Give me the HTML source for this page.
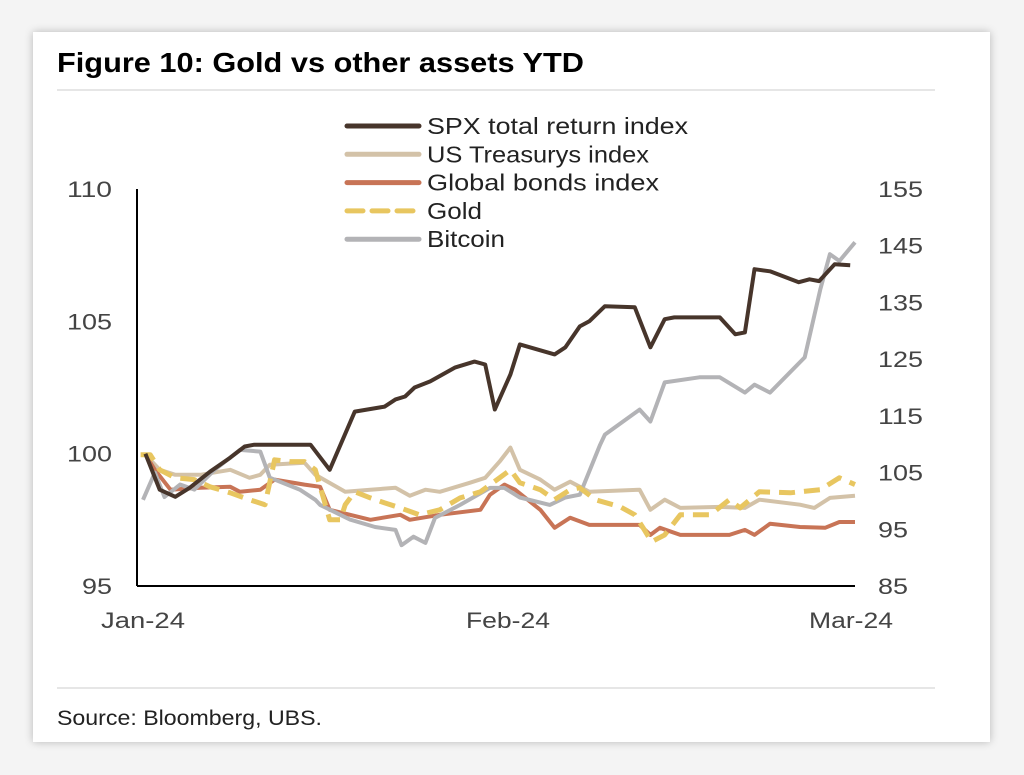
<!DOCTYPE html>
<html><head><meta charset="utf-8"><style>
body{margin:0;width:1024px;height:775px;background:#f4f4f4;overflow:hidden;font-family:"Liberation Sans",sans-serif}
#card{position:absolute;left:33px;top:32px;width:957px;height:710px;background:#fff;box-shadow:0 0 8px rgba(0,0,0,0.25)}
</style></head><body>
<div id="card"></div>
<svg id="chart" width="1024" height="775" style="position:absolute;left:0;top:0">
<text x="57" y="72" font-size="28" font-weight="bold" fill="#000" textLength="527" lengthAdjust="spacingAndGlyphs">Figure 10: Gold vs other assets YTD</text>
<line x1="57" y1="90" x2="935" y2="90" stroke="#ccc" stroke-width="1"/>
<line x1="57" y1="688" x2="935" y2="688" stroke="#ccc" stroke-width="1"/>
<text x="57" y="725" font-size="21" fill="#222" textLength="265" lengthAdjust="spacingAndGlyphs">Source: Bloomberg, UBS.</text>
<g id="axes"></g><g id="series"></g><g id="legend"></g>
</svg>
<script>
const xTickLabels=["Jan-24","Feb-24","Mar-24"];
const xTickDays=[0,31,60];
const leftTicks=[95,100,105,110];
const rightTicks=[85,95,105,115,125,135,145,155];
const spxDays=[0.7,1.9,3.2,4.4,6.1,7.8,9.0,9.8,11.1,14.5,16.1,18.2,20.7,21.6,22.4,23.2,24.5,26.6,28.2,29.1,29.9,31.2,32.0,34.9,35.8,37.0,37.8,39.1,41.6,42.9,44.1,44.9,46.2,48.7,50.0,50.8,51.6,52.9,55.3,56.2,57.0,58.3,59.6];
const spxVals=[100.0,98.64,98.37,98.71,99.32,99.85,100.27,100.34,100.34,100.34,99.39,101.59,101.78,102.05,102.16,102.5,102.73,103.26,103.48,103.37,101.67,102.99,104.13,103.75,104.02,104.81,105.0,105.57,105.53,104.02,105.08,105.15,105.15,105.15,104.51,104.58,106.97,106.89,106.48,106.59,106.52,107.16,107.12];
const ustDays=[0.7,1.9,3.2,5.3,7.8,9.4,10.3,11.1,14.0,14.9,17.4,19.5,21.6,22.8,24.1,25.3,27.8,29.1,30.3,31.2,32.0,33.7,34.9,36.2,37.8,42.0,42.9,44.1,45.4,48.7,50.8,52.0,55.4,56.6,57.9,60.0];
const ustVals=[99.96,99.39,99.2,99.2,99.39,99.09,99.2,99.58,99.66,99.2,98.56,98.64,98.71,98.41,98.64,98.56,98.9,99.09,99.7,100.23,99.39,99.02,98.64,98.94,98.56,98.64,97.88,98.26,97.95,97.99,97.95,98.26,98.07,97.95,98.33,98.41];
const gbDays=[0.7,1.5,2.8,5.3,7.8,8.6,10.3,11.5,14.0,15.3,16.1,19.5,22.0,22.8,25.3,28.7,29.5,30.7,31.6,33.7,34.9,36.2,37.8,42.0,42.9,43.7,45.4,49.5,50.8,51.6,52.9,55.4,57.5,58.7,60.0];
const gbVals=[99.96,99.39,98.64,98.71,98.75,98.56,98.64,99.02,98.83,98.75,97.88,97.5,97.69,97.5,97.69,97.88,98.45,98.83,98.64,97.88,97.2,97.58,97.31,97.31,96.93,97.2,96.93,96.93,97.12,96.93,97.35,97.23,97.2,97.42,97.42];
const goldDays=[0.3,1.1,1.9,3.2,4.8,6.1,7.8,9.4,10.7,11.5,12.8,14.0,14.9,16.1,17.0,17.4,18.2,19.5,20.7,22.0,23.6,25.3,27.0,28.7,30.3,31.2,32.0,33.7,34.9,36.2,37.0,38.3,40.4,41.6,42.4,43.0,44.1,45.4,47.9,49.5,50.4,52.0,54.6,57.1,58.7,60.0];
const goldVals=[99.96,99.96,99.39,99.09,99.02,98.75,98.52,98.26,98.07,99.77,99.7,99.7,99.39,97.5,97.5,98.07,98.56,98.33,98.14,97.95,97.69,97.88,98.33,98.56,99.09,99.39,98.9,98.64,98.26,98.64,98.71,98.26,97.99,97.69,97.12,96.67,96.93,97.69,97.69,98.26,97.95,98.56,98.52,98.64,99.09,98.83];
const btcDays=[0.5,1.5,2.3,3.6,4.8,6.5,8.6,10.3,11.1,13.6,14.9,15.3,17.8,19.9,21.6,22.1,23.1,24.1,24.9,27.0,29.5,30.7,32.0,34.5,35.8,37.0,38.7,39.1,42.0,42.9,44.1,47.0,48.7,50.8,51.6,52.9,55.8,57.1,57.9,58.7,60.0];
const btcVals=[100.2,105.0,100.7,102.9,102.0,105.5,109.0,108.7,104.1,102.0,100.2,99.3,96.7,95.4,94.9,92.2,93.7,92.6,97.0,99.3,102.3,102.3,100.6,99.3,100.6,101.1,109.9,111.7,116.1,114.0,120.9,121.8,121.8,119.1,120.5,119.1,125.3,137.3,143.5,142.3,145.6];
const seriesNames=["SPX total return index","US Treasurys index","Global bonds index","Gold","Bitcoin"];

const NS="http://www.w3.org/2000/svg";
const X0=137,X1=855,Y0=586,Y1=189;
const xScale=d=>X0+d/60*(X1-X0);
const yL=v=>Y0-(v-95)/15*(Y0-Y1);
const yR=v=>Y0-(v-85)/70*(Y0-Y1);
function mk(tag,attrs,parent){const e=document.createElementNS(NS,tag);for(const k in attrs)e.setAttribute(k,attrs[k]);parent.appendChild(e);return e;}
const axes=document.getElementById('axes');
let e=mk('line',{x1:X0,y1:Y1,x2:X0,y2:Y0,stroke:'#000','stroke-width':2},axes);


e=mk('line',{x1:X0,y1:Y0,x2:X1,y2:Y0,stroke:'#000','stroke-width':2},axes);


leftTicks.forEach(v=>{const t=mk('text',{x:112,y:yL(v)+8,'font-size':22,fill:'#444','text-anchor':'end',textLength:(String(v).length*15),lengthAdjust:'spacingAndGlyphs'},axes);t.textContent=v;

});
rightTicks.forEach(v=>{const t=mk('text',{x:878,y:yR(v)+8,'font-size':22,fill:'#444',textLength:(String(v).length*15),lengthAdjust:'spacingAndGlyphs'},axes);t.textContent=v;

});
xTickLabels.forEach((l,i)=>{let x=xScale(xTickDays[i]);if(i==0)x+=6;if(i==2)x-=4;const t=mk('text',{x:x-42,y:628,'font-size':22,fill:'#444',textLength:84,lengthAdjust:'spacingAndGlyphs'},axes);t.textContent=l;

});
const ser=document.getElementById('series');
function line(days,vals,sc,color,dash,name){const pts=days.map((d,i)=>xScale(d).toFixed(1)+','+sc(vals[i]).toFixed(1)).join(' ');
const p=mk('polyline',{points:pts,fill:'none',stroke:color,'stroke-width':dash?5:4,'stroke-linejoin':'round','stroke-dasharray':dash||'none'},ser);

}
line(ustDays,ustVals,yL,'#d3c2a8',null,'us-treasurys-line');
line(gbDays,gbVals,yL,'#c87456',null,'global-bonds-line');
line(btcDays,btcVals,yR,'#b3b3b6',null,'bitcoin-line');
line(goldDays,goldVals,yL,'#e8c660','16,9','gold-line');
line(spxDays,spxVals,yL,'#47352b',null,'spx-line');
const leg=document.getElementById('legend');
const colors=['#47352b','#d3c2a8','#c87456','#e8c660','#b3b3b6'];
const names=['legend-spx','legend-us-treasurys','legend-global-bonds','legend-gold','legend-bitcoin'];
const legW=[261,222,232,55,78];
seriesNames.forEach((n,i)=>{const y=126+i*28.3;
const g=mk('g',{},leg);


mk('line',{x1:347,y1:y,x2:419,y2:y,stroke:colors[i],'stroke-width':5,'stroke-linecap':'round','stroke-dasharray':i==3?'16,9':'none'},g);
const t=mk('text',{x:427,y:y+8,'font-size':23,fill:'#222',textLength:legW[i],lengthAdjust:'spacingAndGlyphs'},g);t.textContent=n;});
</script>
</body></html>
